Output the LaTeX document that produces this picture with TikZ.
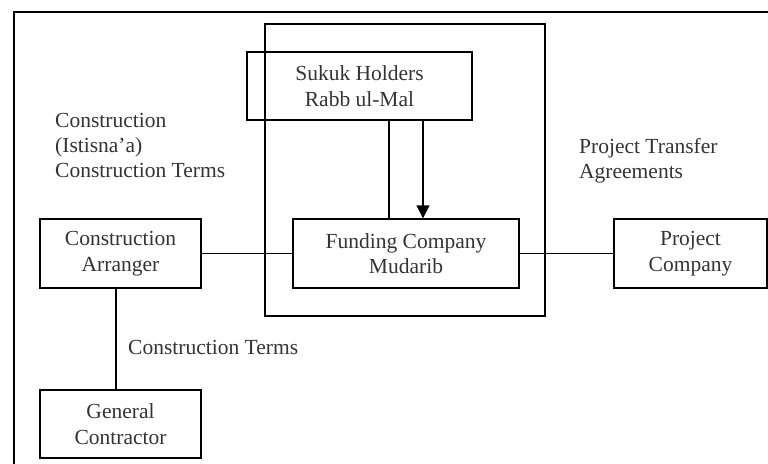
\documentclass[tikz,border=0pt]{standalone}
\usepackage{fontspec}
\setmainfont{Liberation Serif}
\usetikzlibrary{arrows.meta}
\definecolor{txt}{HTML}{333333}
\tikzset{
  box/.style={draw=black, line width=1.4pt, text=txt, align=center, inner sep=0pt,
    font=\fontsize{21.5}{25.5}\selectfont},
  lbl/.style={text=txt, align=left, inner sep=0pt, anchor=base west,
    font=\fontsize{21.5}{25.5}\selectfont},
  conn/.style={draw=black, line width=1.4pt},
  frame/.style={draw=black, line width=2pt}
}
\begin{document}
\begin{tikzpicture}[x=1pt,y=-1pt]
\useasboundingbox (0,0) rectangle (768,463);
\begin{scope}
\clip (0,0) rectangle (768,463);
\draw[frame] (14,12) rectangle (800,500);
\end{scope}
% inner Mudarib frame
\draw[conn] (265,24) rectangle (545,316);
% boxes
\node[box, minimum width=225pt, minimum height=68pt] (sukuk) at (359.5,86) {Sukuk Holders\\Rabb ul-Mal};
\node[box, minimum width=226pt, minimum height=69pt] (fund) at (406,253.5) {Funding Company\\Mudarib};
\node[box, minimum width=161pt, minimum height=69pt] (arr) at (120.5,253.5) {Construction\\Arranger};
\node[box, minimum width=153pt, minimum height=69pt] (proj) at (690.5,253.5) {Project\\Company};
\node[box, minimum width=161pt, minimum height=68pt] (gen) at (120.5,424) {General\\Contractor};
% connectors
\coordinate (s1) at ([xshift=29.5pt]sukuk.south);
\coordinate (s2) at ([xshift=63.5pt]sukuk.south);
\draw[conn] (s1) -- (s1 |- fund.north);
\draw[conn, -{Triangle[length=13pt,width=13pt]}] (s2) -- (s2 |- fund.north);
\draw[conn] (arr.east) -- (fund.west);
\draw[conn] (fund.east) -- (proj.west);
\coordinate (a1) at ([xshift=-4.5pt]arr.south);
\draw[conn] (a1) -- (a1 |- gen.north);
% labels
\node[lbl] (l1) at (55,127) {Construction};
\node[lbl] (l2) at (55,152) {(Istisna'a)};
\node[lbl] (l3) at (55,177) {Construction Terms};
\node[lbl] (p1) at (579,153) {Project Transfer};
\node[lbl] (p2) at (579,178) {Agreements};
\node[lbl] (ct) at (128,354) {Construction Terms};
\end{tikzpicture}
\end{document}
